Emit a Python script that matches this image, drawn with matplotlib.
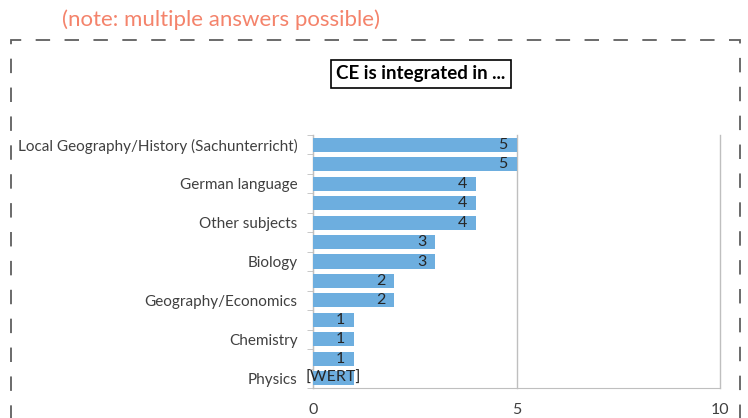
import numpy as np
import matplotlib.pyplot as plt
from matplotlib.patches import Rectangle

# data (top to bottom)
subjects = ["Local Geography/History (Sachunterricht)", "", "German language", "",
            "Other subjects", "", "Biology", "", "Geography/Economics", "",
            "Chemistry", "", "Physics"]
counts = [5, 5, 4, 4, 4, 3, 3, 2, 2, 1, 1, 1, 1]
bar_labels = ["5", "5", "4", "4", "4", "3", "3", "2", "2", "1", "1", "1", "[WERT]"]

plt.rcParams['font.family'] = ['Lato', 'DejaVu Sans']

fig = plt.figure(figsize=(7.48, 4.18), dpi=100)
ax = fig.add_axes([313/748, 1-388/418, (720-313)/748, (388-135)/418])

n = len(counts)
y = np.arange(n)
ax.barh(y, counts, height=0.72, color='#6DAEDF', zorder=3)
ax.set_ylim(n-0.5, -0.5)
ax.set_xlim(0, 10)

# value labels
for i in range(n):
    if bar_labels[i].startswith('['):
        ax.text(counts[i]/2, y[i], bar_labels[i], ha='center', va='center',
                fontsize=11.5, color='#262626', zorder=4)
    else:
        ax.annotate(bar_labels[i], (counts[i], y[i]), xytext=(-9, 0),
                    textcoords='offset pixels', ha='right', va='center',
                    fontsize=11.5, color='#262626', zorder=4)

ax.set_yticks(y)
ax.set_yticklabels(subjects, fontsize=11, color='#404040')
ax.tick_params(axis='y', which='major', length=0, pad=11)
ax.set_yticks(np.arange(n+1)-0.5, minor=True)
ax.tick_params(axis='y', which='minor', length=4, color='#BFBFBF')

ax.set_xticks([0, 5, 10])
ax.set_xticklabels(['0', '5', '10'], fontsize=11.5, color='#404040')
ax.tick_params(axis='x', length=0, pad=11)

ax.grid(axis='x', color='#BFBFBF', linewidth=1, zorder=0)
ax.grid(axis='y', visible=False)
for gl in ax.get_xgridlines():
    gl.set_clip_on(False)
for s in ['top', 'right']:
    ax.spines[s].set_visible(False)
for s in ['left', 'bottom']:
    ax.spines[s].set_color('#BFBFBF')

# chart title box
fig.text(421/748, 1-74/418, "CE is integrated in ...", ha='center', va='center',
         fontsize=13.5, fontweight='bold', color='black',
         bbox=dict(boxstyle='square,pad=0.3', fc='white', ec='black', lw=1.2))

# note
fig.text(62/748, 1-20/418, "(note: multiple answers possible)", ha='left', va='center',
         fontsize=16, color='#F4836B')

# dashed frame
fig.patches.append(Rectangle((11/748, -0.2), (740-11)/748, 1.2 - 40/418,
                             transform=fig.transFigure, fill=False,
                             ec='#5F5F5F', lw=1.3, ls=(0, (8, 8)), clip_on=False))

fig.savefig('out.png', dpi=100)
